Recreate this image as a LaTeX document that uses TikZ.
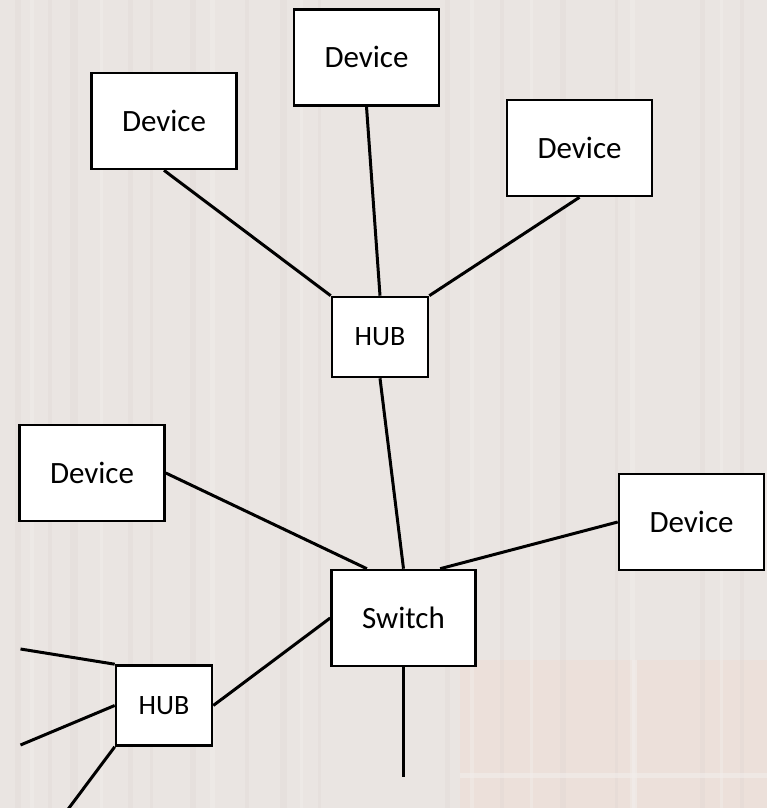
\documentclass[tikz,border=0pt]{standalone}
\usepackage{fontspec}
\setmainfont{Carlito}
\usetikzlibrary{calc}
\definecolor{paper}{HTML}{EAE5E2}
\definecolor{warm}{HTML}{EEDDD6}
\definecolor{stripe}{HTML}{DDD6D2}
\definecolor{glow}{HTML}{F2EEEB}
\tikzset{
  box/.style={draw=black, line width=2.6pt, fill=white, rectangle, inner sep=0pt},
  devbox/.style={box, minimum width=145pt, minimum height=96pt, font=\fontsize{31}{36}\selectfont},
  hubbox/.style={box, minimum width=96pt, minimum height=80pt, font=\fontsize{28}{32}\selectfont},
  link/.style={line width=3pt, draw=black}
}
\begin{document}
\begin{tikzpicture}[x=1pt, y=-1pt]
  % faded backdrop
  \fill[paper] (0,0) rectangle (767,808);
  \useasboundingbox (0,0) rectangle (767,808);
  \fill[warm, opacity=0.6] (460,660) rectangle (767,808);
  \foreach \xa/\w in {15/6, 48/4, 70/8, 128/5, 150/3, 190/6, 245/4, 280/7, 318/3, 445/5, 500/4, 560/6, 615/3, 700/5, 740/4}
    \fill[stripe, opacity=0.3] (\xa,0) rectangle ++(\w,808);
  \foreach \xa/\w in {30/4, 100/3, 210/5, 300/3, 470/4, 530/3, 630/5, 720/3}
    \fill[glow, opacity=0.45] (\xa,0) rectangle ++(\w,808);
  \fill[glow, opacity=0.6] (460,773) rectangle (767,778);
  \fill[glow, opacity=0.6] (632,660) rectangle (637,808);

  % nodes
  \node[devbox] (devTop) at (366.5,57.3) {Device};
  \node[devbox] (devUL) at (164,121) {Device};
  \node[devbox] (devUR) at (579.5,148) {Device};
  \node[hubbox] (hubTop) at (380,337) {HUB};
  \node[devbox] (devML) at (92,473) {Device};
  \node[devbox] (devR) at (691.5,522) {Device};
  \node[devbox, minimum width=144pt] (sw) at (403.5,618) {Switch};
  \node[hubbox] (hubBot) at (164,705.5) {HUB};

  % free ends of the open links
  \coordinate (down) at (403.5,777);
  \coordinate (leftA) at (20.5,649);
  \coordinate (leftB) at (20.5,745);
  \coordinate (leftC) at (66,812);

  % links
  \draw[link] (devUL.south) -- (hubTop.north west);
  \draw[link] (devTop.south) -- (hubTop.north);
  \draw[link] (devUR.south) -- (hubTop.north east);
  \draw[link] (hubTop.south) -- (sw.north);
  \draw[link] (devML.east) -- ($(sw.north west)!0.25!(sw.north east)$);
  \draw[link] (devR.west) -- ($(sw.north west)!0.75!(sw.north east)$);
  \draw[link] (sw.west) -- (hubBot.east);
  \draw[link] (sw.south) -- (down);
  \draw[link] (leftA) -- (hubBot.north west);
  \draw[link] (leftB) -- (hubBot.west);
  \draw[link] (leftC) -- (hubBot.south west);
\end{tikzpicture}
\end{document}
